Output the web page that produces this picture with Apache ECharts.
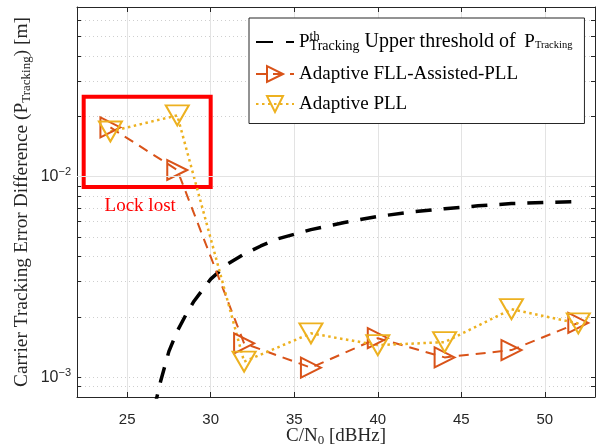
<!DOCTYPE html>
<html>
<head>
<meta charset="utf-8">
<script src="https://cdn.jsdelivr.net/npm/echarts@6/dist/echarts.min.js"></script>
<style>
html, body { margin: 0; padding: 0; background: #ffffff; }
#container { width: 596px; height: 448px; }
</style>
</head>
<body>
<div id="container"></div>
<script type="text/javascript">
// C/N0 values of the two loops
var cn0 = [24, 28, 32, 36, 40, 44, 48, 52];
var fllValues = [0.0176, 0.0108, 0.00148, 0.00112, 0.00157, 0.00126, 0.00137, 0.00187];
var pllValues = [0.0168, 0.0202, 0.00120, 0.00166, 0.00145, 0.00150, 0.00219, 0.00186];

// threshold curve
var thrX = [26.6, 27.0, 27.5, 28.0, 28.5, 29.0, 30.0, 31.0, 32.0, 33.0, 34.0, 36.0, 38.0, 40.0, 42.0, 44.0, 46.0, 48.0, 50.0, 52.0];
var thrY = [0.00069, 0.000955, 0.00135, 0.00170, 0.00204, 0.00240, 0.00309, 0.00367, 0.00412, 0.00452, 0.00490, 0.00545, 0.00592, 0.00634, 0.00667, 0.00693, 0.00716, 0.00735, 0.00745, 0.00752];

var xTicks = [25, 30, 35, 40, 45, 50];
var yMajor = [0.001, 0.01];
var yMinor = [0.0009, 0.002, 0.003, 0.004, 0.005, 0.006, 0.007, 0.008, 0.009, 0.02, 0.03, 0.04, 0.05, 0.06];
var lockBox = [[22.4, 0.025], [30.0, 0.0089]];

var serif = "'Liberation Serif', 'Times New Roman', serif";
var sans = "'Liberation Sans', Arial, sans-serif";
var axisColor = '#262626';

function pairs(xs, ys) {
    return xs.map(function (x, i) { return [x, ys[i]]; });
}

var dom = document.getElementById("container");
var myChart = echarts.init(dom);
var option = {
    animation: false,
    backgroundColor: '#ffffff',
    grid: { left: 77, right: 1, top: 7, bottom: 51, containLabel: false, outerBoundsMode: 'none' },
    legend: {
        data: [
            { name: 'thr', itemStyle: { color: 'rgba(0,0,0,0)', borderWidth: 0, opacity: 0 }, lineStyle: { type: [17, 13] } },
            'Adaptive FLL-Assisted-PLL',
            'Adaptive PLL'
        ],
        orient: 'vertical',
        left: 249,
        top: 18,
        padding: [12, 12, 10, 6],
        itemGap: 11,
        itemWidth: 38,
        itemHeight: 20,
        backgroundColor: '#ffffff',
        borderColor: '#262626',
        borderWidth: 1,
        borderRadius: 0,
        formatter: function (name) {
            if (name === 'thr') {
                return '{p|P}{sup|th}{sub|Tracking}{t| Upper threshold of}{p| P}{sub2|Tracking}';
            }
            return name;
        },
        textStyle: {
            fontFamily: serif,
            fontSize: 19,
            color: '#000000',
            rich: {
                p: { fontFamily: serif, fontSize: 19, color: '#000' },
                t: { fontFamily: serif, fontSize: 20, color: '#000', width: 160 },
                sup: { fontFamily: serif, fontSize: 13, color: '#000', width: 0, padding: [0, 0, 11, 0] },
                sub: { fontFamily: serif, fontSize: 14, color: '#000', padding: [9, 0, 0, 0] },
                sub2: { fontFamily: serif, fontSize: 10.5, color: '#000', padding: [7, 0, 0, 0] }
            }
        }
    },
    xAxis: [{
        type: 'value',
        min: 22,
        max: 53,
        name: '{t|C/N}{sub|0}{t| [dBHz]}',
        nameLocation: 'middle',
        nameGap: 28,
        nameMoveOverlap: false,
        nameTextStyle: {
            rich: {
                t: { fontFamily: serif, fontSize: 19, color: axisColor },
                sub: { fontFamily: serif, fontSize: 13, color: axisColor, padding: [9, 0, 0, 0] }
            }
        },
        axisLine: { show: true, lineStyle: { color: axisColor, width: 1 } },
        axisTick: { show: true, inside: true, length: 5, customValues: xTicks, lineStyle: { color: axisColor } },
        axisLabel: { customValues: xTicks, color: axisColor, fontFamily: sans, fontSize: 15, margin: 15 },
        splitLine: { show: true, lineStyle: { color: '#e3e3e3', width: 1 } }
    }, {
        type: 'value',
        position: 'top',
        min: 22,
        max: 53,
        axisLine: { show: true, onZero: false, lineStyle: { color: axisColor, width: 1 } },
        axisTick: { show: true, inside: true, length: 5, customValues: xTicks, lineStyle: { color: axisColor } },
        axisLabel: { show: false },
        splitLine: { show: false }
    }],
    yAxis: [{
        type: 'log',
        logBase: 10,
        min: 0.0008,
        max: 0.07,
        name: 'Carrier Tracking Error Difference ({p|P}{sub|Tracking}) [m]',
        nameLocation: 'middle',
        nameRotate: 90,
        nameGap: 44,
        nameMoveOverlap: false,
        nameTextStyle: {
            fontFamily: serif,
            fontSize: 19.4,
            color: axisColor,
            rich: {
                p: { fontFamily: serif, fontSize: 19.4, color: axisColor },
                sub: { fontFamily: serif, fontSize: 13, color: axisColor, padding: [9, 0, 0, 0] }
            }
        },
        axisLine: { show: true, onZero: false, lineStyle: { color: axisColor, width: 1 } },
        axisTick: { show: true, inside: true, length: 4, customValues: yMajor.concat(yMinor), lineStyle: { color: axisColor } },
        axisLabel: {
            customValues: yMajor,
            margin: 6,
            formatter: function (v) {
                var e = Math.round(Math.log10(v));
                return '{b|10}{s|' + (e < 0 ? '\u2212' + (-e) : e) + '}';
            },
            rich: {
                b: { fontFamily: sans, fontSize: 16, color: axisColor },
                s: { fontFamily: sans, fontSize: 11, color: axisColor, padding: [0, 0, 10, 0] }
            }
        },
        splitLine: { show: true, lineStyle: { color: '#cfcfcf', width: 1, type: [1, 3] } }
    }, {
        type: 'log',
        logBase: 10,
        position: 'right',
        min: 0.0008,
        max: 0.07,
        axisLine: { show: true, onZero: false, lineStyle: { color: axisColor, width: 1 } },
        axisTick: { show: true, inside: true, length: 4, customValues: yMajor.concat(yMinor), lineStyle: { color: axisColor } },
        axisLabel: { show: false },
        splitLine: { show: false }
    }],
    series: [
        {
            name: 'grid',
            type: 'line',
            data: [],
            z: 1,
            silent: true,
            markLine: {
                silent: true,
                symbol: 'none',
                label: { show: false },
                lineStyle: { color: '#e3e3e3', width: 1, type: 'solid' },
                data: yMajor.map(function (v) { return { yAxis: v }; })
            }
        },
        {
            name: 'thr',
            type: 'line',
            data: pairs(thrX, thrY),
            showSymbol: false,
            symbol: 'none',
            color: '#000000',
            lineStyle: { color: '#000000', width: 3.5, type: [16, 12] },
            markArea: {
                silent: true,
                itemStyle: { color: 'rgba(0,0,0,0)', borderColor: '#ff0000', borderWidth: 4 },
                label: {
                    show: true,
                    position: 'bottom',
                    distance: 8,
                    offset: [-7, 0],
                    formatter: 'Lock lost',
                    color: '#ff0000',
                    fontFamily: serif,
                    fontSize: 19
                },
                data: [[{ xAxis: lockBox[0][0], yAxis: lockBox[0][1] }, { xAxis: lockBox[1][0], yAxis: lockBox[1][1] }]]
            }
        },
        {
            name: 'Adaptive FLL-Assisted-PLL',
            type: 'line',
            data: pairs(cn0, fllValues),
            symbol: 'triangle',
            symbolRotate: -90,
            symbolSize: 20,
            color: '#D95319',
            lineStyle: { color: '#D95319', width: 2, type: [10, 7] },
            itemStyle: { color: 'rgba(255,255,255,0)', borderColor: '#D95319', borderWidth: 2 }
        },
        {
            name: 'Adaptive PLL',
            type: 'line',
            data: pairs(cn0, pllValues),
            symbol: 'triangle',
            symbolRotate: 180,
            symbolSize: [23, 20],
            color: '#EDB120',
            lineStyle: { color: '#EDB120', width: 2.5, type: [2.5, 3.5] },
            itemStyle: { color: 'rgba(255,255,255,0)', borderColor: '#EDB120', borderWidth: 2 }
        }
    ]
};

if (option && typeof option === "object") {
    myChart.setOption(option, true);
}
</script>
</body>
</html>
